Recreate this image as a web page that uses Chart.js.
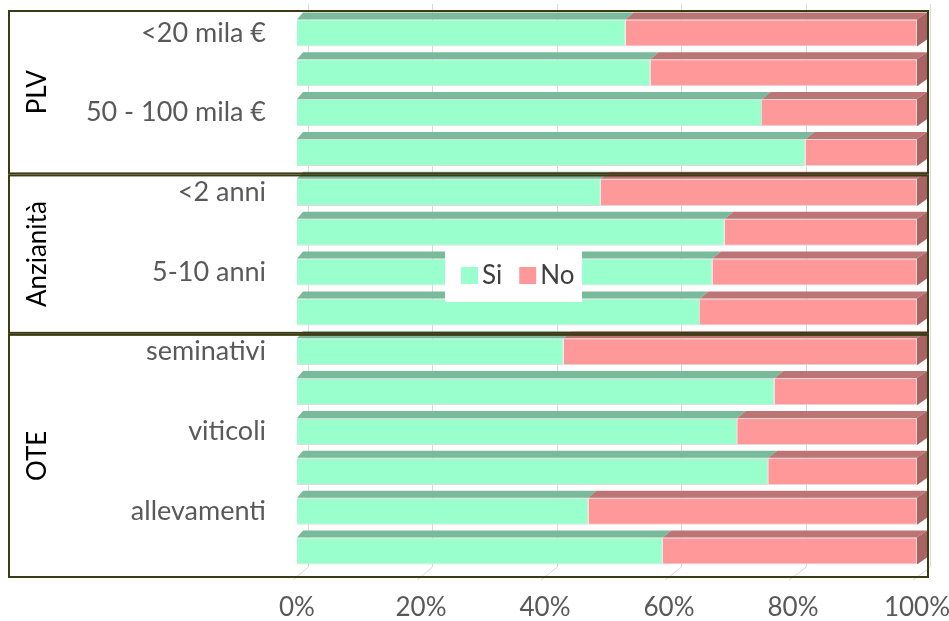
<!DOCTYPE html>
<html>
<head>
<meta charset="utf-8">
<script src="https://cdn.jsdelivr.net/npm/chart.js@4/dist/chart.umd.min.js"></script>
<style>
  html, body { margin: 0; padding: 0; background: #ffffff; }
  #wrap { width: 949px; height: 621px; }
</style>
</head>
<body>
<div id="wrap"><canvas id="chart" width="949" height="621"></canvas></div>
<script>
// Category labels (one label every other bar)
const categories = ['<20 mila €', '', '50 - 100 mila €', '', '<2 anni', '', '5-10 anni', '',
                    'seminativi', '', 'viticoli', '', 'allevamenti', ''];
// Share of answers, in percent
const siValues = [53, 57, 75, 82, 49, 69, 67, 65, 43, 77, 71, 76, 47, 59];
const noValues = [47, 43, 25, 18, 51, 31, 33, 35, 57, 23, 29, 24, 53, 41];
// Axis ticks
const tickValues = [0, 20, 40, 60, 80, 100];
const tickLabels = ['0%', '20%', '40%', '60%', '80%', '100%'];
// Grouping of the bars
const groupNames = ['PLV', 'Anzianità', 'OTE'];
const groupSizes = [4, 4, 6];

const FONT = 'Lato, "Open Sans", sans-serif';
const SI_FRONT = '#99ffcc', SI_TOP = '#78ba99';
const NO_FRONT = '#ff9999', NO_TOP = '#bd7474', NO_SIDE = '#a96363';
const DEPTH_Y = 7;

// Keep the plot area fixed: no extra room for overhanging tick labels
function noOverhang(scale) {
  scale.paddingTop = 0;
  scale.paddingBottom = 0;
  scale.paddingLeft = 0;
  scale.paddingRight = 0;
}

// Back-wall gridlines with a slanted floor segment
const gridPlugin = {
  id: 'grid3d',
  beforeDatasetsDraw(chart) {
    const ctx = chart.ctx, xs = chart.scales.x;
    ctx.save();
    ctx.strokeStyle = '#d9d9d9';
    ctx.lineWidth = 1;
    tickValues.forEach(v => {
      const fx = xs.getPixelForValue(v);
      const bx = Math.round(fx + 11 + 2 * v / 100);
      ctx.beginPath();
      ctx.moveTo(bx + 0.5, 4);
      ctx.lineTo(bx + 0.5, 567);
      ctx.lineTo(fx - 4, 580);
      ctx.stroke();
    });
    ctx.restore();
  }
};

// Top and side faces of the bars
const facesPlugin = {
  id: 'faces3d',
  afterDatasetsDraw(chart) {
    const ctx = chart.ctx, area = chart.chartArea;
    const dx = px => 6 + 4 * (px - area.left) / (area.right - area.left);
    const tops = [SI_TOP, NO_TOP];
    const nSets = chart.data.datasets.length;
    ctx.save();
    for (let d = 0; d < nSets; d++) {
      const meta = chart.getDatasetMeta(d);
      meta.data.forEach(el => {
        const p = el.getProps(['x', 'y', 'base', 'height'], true);
        const x0 = Math.min(p.x, p.base), x1 = Math.max(p.x, p.base);
        const y0 = p.y - p.height / 2, y1 = p.y + p.height / 2;
        ctx.fillStyle = tops[d];
        ctx.beginPath();
        ctx.moveTo(x0, y0);
        ctx.lineTo(x1, y0);
        ctx.lineTo(x1 + dx(x1), y0 - DEPTH_Y);
        ctx.lineTo(x0 + dx(x0), y0 - DEPTH_Y);
        ctx.closePath();
        ctx.fill();
        if (d === nSets - 1) {
          ctx.fillStyle = NO_SIDE;
          ctx.beginPath();
          ctx.moveTo(x1, y0);
          ctx.lineTo(x1 + dx(x1), y0 - DEPTH_Y);
          ctx.lineTo(x1 + dx(x1), y1 - DEPTH_Y);
          ctx.lineTo(x1, y1);
          ctx.closePath();
          ctx.fill();
        }
      });
    }
    ctx.restore();
  }
};

// Framed groups with rotated group names
const groupsPlugin = {
  id: 'groups',
  afterDraw(chart) {
    const ctx = chart.ctx, area = chart.chartArea, ys = chart.scales.y;
    const step = (area.bottom - area.top) / categories.length;
    ctx.save();
    let start = 0;
    groupSizes.forEach((n, g) => {
      const top = ys.getPixelForValue(start) - step / 2 + (g === 0 ? -2 : 3);
      const bottom = ys.getPixelForValue(start + n - 1) + step / 2 + (g === groupSizes.length - 1 ? 6 : 1);
      ctx.strokeStyle = '#3b3b14';
      ctx.lineWidth = 2;
      ctx.strokeRect(9, top, 919, bottom - top);
      ctx.save();
      ctx.translate(38, (top + bottom) / 2);
      ctx.rotate(-Math.PI / 2);
      ctx.fillStyle = '#000000';
      ctx.font = '26px ' + FONT;
      ctx.textAlign = 'center';
      ctx.textBaseline = 'middle';
      ctx.fillText(groupNames[g], 0, 0);
      ctx.restore();
      start += n;
    });
    ctx.restore();
  }
};

// Legend drawn over the plot
const legendPlugin = {
  id: 'legendBox',
  afterDraw(chart) {
    const ctx = chart.ctx;
    ctx.save();
    ctx.fillStyle = '#ffffff';
    ctx.fillRect(445, 250, 137, 52);
    ctx.font = '26px ' + FONT;
    ctx.textBaseline = 'middle';
    let x = 461;
    chart.data.datasets.forEach(ds => {
      ctx.fillStyle = ds.backgroundColor;
      ctx.fillRect(x, 267, 17, 17);
      ctx.fillStyle = '#404040';
      ctx.fillText(ds.label, x + 21, 276);
      x += 21 + ctx.measureText(ds.label).width + 17;
    });
    ctx.restore();
  }
};

new Chart(document.getElementById('chart'), {
  type: 'bar',
  data: {
    labels: categories,
    datasets: [
      { label: 'Si', data: siValues, backgroundColor: SI_FRONT, borderColor: '#e2d9d9', borderWidth: 1,
        barPercentage: 0.68, categoryPercentage: 1 },
      { label: 'No', data: noValues, backgroundColor: NO_FRONT, borderColor: '#e2d9d9', borderWidth: 1,
        barPercentage: 0.68, categoryPercentage: 1 }
    ]
  },
  options: {
    indexAxis: 'y',
    responsive: false,
    animation: false,
    layout: { padding: { top: 13, right: 32, left: 0, bottom: 0 } },
    plugins: { legend: { display: false }, tooltip: { enabled: false } },
    scales: {
      x: {
        stacked: true, min: 0, max: 100,
        afterBuildTicks(scale) { scale.ticks = tickValues.map(v => ({ value: v })); },
        ticks: {
          callback: (v, i) => tickLabels[i],
          font: { family: FONT, size: 26 }, color: '#595959', padding: 21, maxRotation: 0
        },
        grid: { display: false, drawTicks: false },
        border: { display: false },
        afterFit(scale) { scale.height = 50; noOverhang(scale); }
      },
      y: {
        stacked: true,
        ticks: { font: { family: FONT, size: 27 }, color: '#595959', padding: 31, autoSkip: false },
        grid: { display: false, drawTicks: false },
        border: { display: false },
        afterFit(scale) { scale.width = 297; noOverhang(scale); }
      }
    }
  },
  plugins: [gridPlugin, facesPlugin, groupsPlugin, legendPlugin]
});
</script>
</body>
</html>
